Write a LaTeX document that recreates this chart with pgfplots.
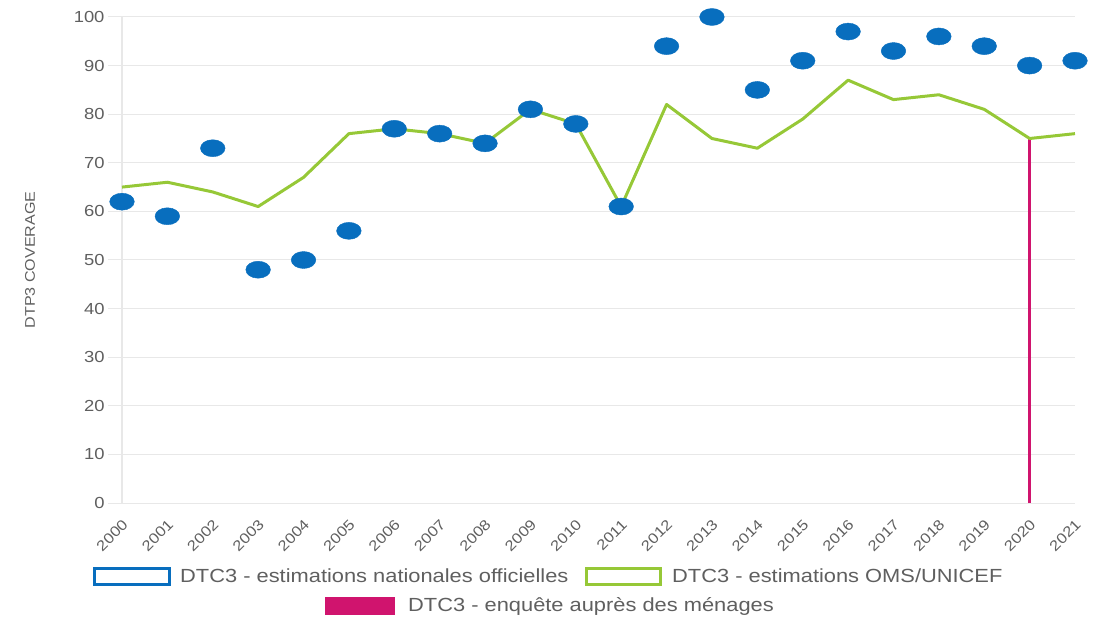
\documentclass[border=0pt]{standalone}
\usepackage{pgfplots}
\pgfplotsset{compat=1.18}
\usepackage{fontspec}
\setmainfont{Liberation Sans}[FakeStretch=1.15]

\definecolor{dotblue}{RGB}{8,110,190}
\definecolor{limegr}{RGB}{150,200,55}
\definecolor{survey}{RGB}{208,20,110}
\definecolor{txtgray}{RGB}{95,95,95}
\definecolor{gridgray}{RGB}{232,232,232}

\begin{document}
\begin{tikzpicture}
\begin{axis}[
  scale only axis,
  width=953pt, height=486pt,
  xmin=2000, xmax=2021, ymin=0, ymax=100,
  xtick={2000,2001,...,2021},
  ytick={0,10,...,100},
  ytick pos=left,
  xticklabel style={/pgf/number format/1000 sep={}, rotate=45, anchor=east, font=\fontsize{14.5}{16}\selectfont, text=txtgray, xshift=2pt, yshift=-6pt},
  yticklabel style={font=\fontsize{16}{18}\selectfont, text=txtgray},
  /pgf/number format/assume math mode=true,
  ymajorgrids, grid style={gridgray, line width=1pt},
  axis line style={draw=none},
  xtick style={draw=none},
  ytick style={draw=gridgray, line width=1pt},
  tick align=outside, major tick length=14pt,
  ylabel={DTP3 COVERAGE},
  ylabel style={at={(axis description cs:-0.0965,0.5)}, anchor=center, font=\fontsize{14}{16}\selectfont, text=txtgray},
  clip=false,
]
% light vertical axis line
\draw[gridgray, line width=1.2pt] (rel axis cs:0,0) -- (rel axis cs:0,1);
\coordinate (O) at (rel axis cs:0,0);

% household survey
\addplot[ycomb, survey, line width=2.5pt] coordinates {(2020,75)};

% WHO/UNICEF estimates
\addplot[limegr, line width=3pt, line join=round] coordinates {
(2000,65) (2001,66) (2002,64) (2003,61) (2004,67) (2005,76) (2006,77)
(2007,76) (2008,74) (2009,81) (2010,78) (2011,61) (2012,82) (2013,75)
(2014,73) (2015,79) (2016,87) (2017,83) (2018,84) (2019,81) (2020,75)
(2021,76)};

% official national estimates
\addplot[only marks, mark=*, mark size=8.5pt, mark options={xscale=1.45, fill=dotblue, draw=dotblue}] coordinates {
(2000,62) (2001,59) (2002,73) (2003,48) (2004,50) (2005,56) (2006,77)
(2007,76) (2008,74) (2009,81) (2010,78) (2011,61) (2012,94) (2013,100)
(2014,85) (2015,91) (2016,97) (2017,93) (2018,96) (2019,94) (2020,90)
(2021,91)};
\end{axis}

% legend
\begin{scope}[font=\fontsize{19}{22}\selectfont, text=txtgray]
\draw[dotblue, line width=3pt] ([shift={(-27pt,-65pt)}]O) rectangle ++(74pt,-16pt);
\node[anchor=west, inner sep=0pt] at ([shift={(58pt,-73pt)}]O) {DTC3 - estimations nationales officielles};
\draw[limegr, line width=3pt] ([shift={(464pt,-65pt)}]O) rectangle ++(74pt,-16pt);
\node[anchor=west, inner sep=0pt] at ([shift={(550pt,-73pt)}]O) {DTC3 - estimations OMS/UNICEF};
\fill[survey] ([shift={(203pt,-94pt)}]O) rectangle ++(70pt,-18pt);
\node[anchor=west, inner sep=0pt] at ([shift={(286pt,-103pt)}]O) {DTC3 - enquête auprès des ménages};
\end{scope}

\pgfresetboundingbox
\path ([shift={(-122pt,-115pt)}]O) rectangle ++(1099pt,618pt);
\end{tikzpicture}
\end{document}
